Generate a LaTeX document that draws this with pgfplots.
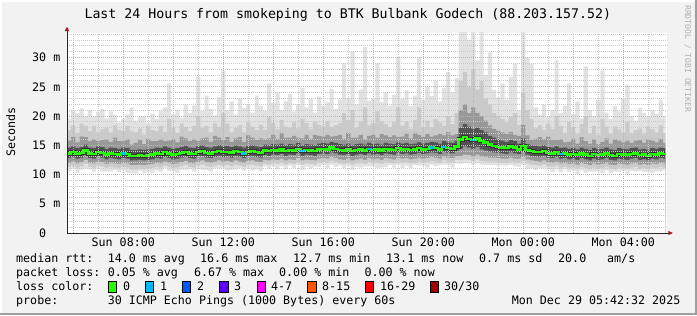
\documentclass[border=0pt]{standalone}
\usepackage{fontspec}
\usepackage{pgfplots}
\pgfplotsset{compat=1.18}
\usepackage{pgfplotstable}
\newfontfamily\mono{DejaVu Sans Mono}
\newcommand\legfont{\mono\fontsize{11.7}{13}\selectfont}
\newcommand\titfont{\mono\fontsize{13.3}{15}\selectfont}
\newcommand\wmfont{\mono\fontsize{8.1}{9}\selectfont}
\definecolor{bgc}{RGB}{242,242,242}
\definecolor{c1}{RGB}{226,226,226}
\definecolor{c2}{RGB}{202,202,202}
\definecolor{c3}{RGB}{152,152,152}
\definecolor{c4}{RGB}{82,82,82}
\definecolor{mgrid}{RGB}{232,160,160}
\definecolor{gridc}{RGB}{200,200,200}
\definecolor{l0}{HTML}{26FF00}
\definecolor{l1}{HTML}{00B8FF}
\definecolor{l2}{HTML}{0059FF}
\definecolor{l3}{HTML}{5E00FF}
\definecolor{l4}{HTML}{FF00FF}
\definecolor{l8}{HTML}{FF5500}
\definecolor{l16}{HTML}{FF0000}
\definecolor{l30}{HTML}{A10000}
\definecolor{arrowc}{RGB}{160,30,30}
\definecolor{axisc}{RGB}{40,40,40}
\definecolor{wm}{RGB}{175,175,175}
\definecolor{shadow}{RGB}{158,158,158}

\pgfplotstableread{
k md mn lo1 lo2 lo3 hi3 hi2 hi1 mx
0 13.6 10.6 11.3 12.0 12.8 14.6 15.8 17.6 19.5
1 13.8 11.0 11.5 12.2 13.0 14.8 16.4 18.4 21.0
2 13.5 10.3 11.2 11.9 12.7 14.5 15.5 17.1 20.5
3 13.7 10.8 11.4 12.1 12.9 14.7 16.5 18.7 21.3
4 14.1 11.0 11.8 12.5 13.3 15.1 16.4 18.3 20.0
5 13.6 10.9 11.3 12.0 12.8 14.6 15.7 17.4 21.0
6 13.5 10.5 11.2 11.9 12.7 14.5 16.0 18.3 19.8
7 13.8 11.0 11.5 12.2 13.0 14.8 15.7 17.3 20.7
8 13.7 10.5 11.4 12.1 12.9 14.7 15.9 17.7 21.2
9 13.4 10.5 11.1 11.8 12.6 14.4 16.0 18.0 19.6
10 13.6 10.5 11.3 12.0 12.8 14.6 15.6 17.2 20.8
11 13.5 10.8 11.2 11.9 12.7 14.5 16.3 18.5 20.2
12 13.4 10.4 11.1 11.8 12.6 14.4 15.7 17.6 18.9
13 13.6 10.8 11.3 12.0 12.8 14.6 15.7 17.4 19.5
14 13.5 10.3 11.2 11.9 12.7 14.5 16.0 18.3 20.3
15 13.2 10.3 10.9 11.6 12.4 14.2 15.1 17.5 21.5
16 13.2 10.1 10.9 11.6 12.4 14.2 15.4 17.2 19.2
17 13.3 10.6 11.0 11.7 12.5 14.3 15.9 17.9 19.8
18 13.2 10.2 10.9 11.6 12.4 14.2 15.2 16.8 20.0
19 13.3 10.5 11.0 11.7 12.5 14.3 16.1 18.3 18.8
20 13.4 10.2 11.1 11.8 12.6 14.4 15.7 17.6 20.4
21 13.6 10.7 11.3 12.0 12.8 14.6 15.7 17.4 19.5
22 13.5 10.4 11.2 11.9 12.7 14.5 16.0 18.3 20.9
23 13.8 11.1 11.5 12.2 13.0 14.8 15.7 17.3 21.5
24 13.6 10.6 11.3 12.0 12.8 14.6 15.8 19.5 25.6
25 13.4 10.6 11.1 11.8 12.6 14.4 16.0 18.0 20.3
26 13.5 10.3 11.2 11.9 12.7 14.5 15.5 17.1 21.0
27 13.7 10.8 11.4 12.1 12.9 14.7 16.5 18.7 19.7
28 13.9 10.8 11.6 12.3 13.1 14.9 16.2 18.1 22.0
29 13.6 10.9 11.3 12.0 12.8 14.6 15.7 17.4 20.5
30 13.5 10.5 11.2 11.9 12.7 14.5 16.0 18.3 21.8
31 13.8 11.0 11.5 12.2 13.0 14.8 15.7 20.0 26.7
32 14.0 10.8 11.7 12.4 13.2 15.0 16.2 18.0 20.9
33 13.7 10.8 11.4 12.1 12.9 14.7 16.3 18.3 23.5
34 13.6 10.5 11.3 12.0 12.8 14.6 15.6 17.2 21.2
35 13.8 11.1 11.5 12.2 13.0 14.8 16.6 18.8 20.1
36 14.0 11.0 11.7 12.4 13.2 15.0 16.3 18.2 23.2
37 13.8 11.0 11.5 12.2 13.0 14.8 15.9 20.5 27.8
38 13.9 10.7 11.6 12.3 13.1 14.9 16.4 18.7 21.0
39 13.7 10.8 11.4 12.1 12.9 14.7 15.6 17.2 22.5
40 14.0 10.9 11.7 12.4 13.2 15.0 16.2 18.0 20.2
41 13.8 11.1 11.5 12.2 13.0 14.8 16.4 18.4 23.0
42 13.6 10.6 11.3 12.0 12.8 14.6 15.6 17.2 21.4
43 13.9 11.1 11.6 12.3 13.1 14.9 16.7 18.9 22.0
44 14.0 10.8 11.7 12.4 13.2 15.0 16.3 18.2 20.6
45 13.8 10.9 11.5 12.2 13.0 14.8 15.9 17.6 23.5
46 13.7 10.6 11.4 12.1 12.9 14.7 16.2 18.5 21.8
47 14.1 11.4 11.8 12.5 13.3 15.1 16.0 17.6 20.9
48 14.0 11.0 11.7 12.4 13.2 15.0 16.2 19.8 25.6
49 14.2 11.4 11.9 12.6 13.4 15.2 16.8 18.8 22.3
50 14.1 10.9 11.8 12.5 13.3 15.1 16.1 17.7 24.0
51 14.3 11.4 12.0 12.7 13.5 15.3 17.1 19.3 21.0
52 14.0 10.9 11.7 12.4 13.2 15.0 16.3 18.2 22.6
53 14.2 11.5 11.9 12.6 13.4 15.2 16.3 18.0 23.8
54 14.1 11.1 11.8 12.5 13.3 15.1 16.6 18.9 20.8
55 14.4 11.6 12.1 12.8 13.6 15.4 16.3 17.9 22.0
56 14.0 10.8 11.7 12.4 13.2 15.0 16.2 19.5 24.8
57 14.2 11.3 11.9 12.6 13.4 15.2 16.8 18.8 21.5
58 14.1 11.0 11.8 12.5 13.3 15.1 16.1 17.7 22.9
59 14.0 11.3 11.7 12.4 13.2 15.0 16.8 19.0 20.6
60 14.3 11.3 12.0 12.7 13.5 15.3 16.6 18.5 23.3
61 14.4 11.6 12.1 12.8 13.6 15.4 16.5 18.2 21.7
62 14.3 11.1 12.0 12.7 13.5 15.3 16.8 19.1 22.4
63 14.6 11.7 12.3 13.0 13.8 15.6 16.5 18.1 24.6
64 14.4 11.3 12.1 12.8 13.6 15.4 16.6 18.4 21.2
65 14.2 11.5 11.9 12.6 13.4 15.2 16.8 18.8 22.8
66 14.1 11.1 11.8 12.5 13.3 15.1 16.1 20.5 29.0
67 14.3 11.5 12.0 12.7 13.5 15.3 17.1 19.3 23.1
68 14.0 10.8 11.7 12.4 13.2 15.0 16.3 21.0 31.0
69 14.2 11.3 11.9 12.6 13.4 15.2 16.3 18.0 22.0
70 14.3 11.2 12.0 12.7 13.5 15.3 16.8 19.1 24.5
71 14.1 11.4 11.8 12.5 13.3 15.1 16.0 21.5 31.8
72 14.4 11.4 12.1 12.8 13.6 15.4 16.6 18.4 22.6
73 14.2 11.4 11.9 12.6 13.4 15.2 16.8 18.8 23.0
74 14.3 11.1 12.0 12.7 13.5 15.3 16.3 20.8 29.0
75 14.1 11.2 11.8 12.5 13.3 15.1 16.9 19.1 22.4
76 14.4 11.3 12.1 12.8 13.6 15.4 16.7 18.6 24.0
77 14.3 11.6 12.0 12.7 13.5 15.3 16.4 18.1 21.8
78 14.2 11.2 11.9 12.6 13.4 15.2 16.7 19.0 23.6
79 14.5 11.7 12.2 12.9 13.7 15.5 16.4 21.5 30.1
80 14.3 11.1 12.0 12.7 13.5 15.3 16.5 18.3 22.9
81 14.4 11.5 12.1 12.8 13.6 15.4 17.0 19.0 24.4
82 14.2 11.1 11.9 12.6 13.4 15.2 16.2 17.8 21.7
83 14.3 11.6 12.0 12.7 13.5 15.3 17.1 19.3 23.5
84 14.5 11.5 12.2 12.9 13.7 15.5 16.8 21.5 30.1
85 14.3 11.5 12.0 12.7 13.5 15.3 16.4 18.1 22.8
86 14.4 11.2 12.1 12.8 13.6 15.4 16.9 19.2 25.0
87 14.6 11.7 12.3 13.0 13.8 15.6 16.5 18.1 23.4
88 14.5 11.4 12.2 12.9 13.7 15.5 16.7 19.5 26.0
89 14.3 11.6 12.0 12.7 13.5 15.3 16.9 18.9 22.5
90 14.7 11.7 12.4 13.1 13.9 15.7 16.7 18.3 24.8
91 14.5 11.7 12.2 12.9 13.7 15.5 17.3 20.0 27.5
92 14.4 11.2 12.1 12.8 13.6 15.4 16.7 18.6 24.0
93 14.8 11.9 12.5 13.2 14.0 15.8 16.9 20.5 26.5
94 16.0 11.8 12.4 13.2 14.4 18.0 21.0 26.0 34.5
95 16.4 12.0 12.6 13.4 14.8 18.6 22.0 27.5 34.5
96 16.1 11.9 12.5 13.3 14.6 18.2 20.5 25.0 33.0
97 15.9 11.6 12.3 13.1 14.4 17.8 21.5 28.0 34.5
98 16.2 12.0 12.6 13.4 14.7 18.0 20.5 24.5 29.5
99 15.7 11.7 12.3 13.1 14.3 17.6 20.0 26.0 34.5
100 15.5 11.6 12.2 13.0 14.1 17.2 19.2 23.0 27.0
101 15.1 11.6 12.2 12.9 13.9 16.6 18.4 22.0 30.9
102 14.9 11.6 12.2 12.9 13.8 16.3 17.8 20.5 24.5
103 14.7 11.5 12.1 12.8 13.7 16.0 17.5 20.0 23.2
104 14.6 11.5 12.0 12.7 13.6 15.8 17.2 19.5 25.6
105 14.5 11.5 12.0 12.7 13.5 15.6 16.9 18.9 22.8
106 14.8 11.6 12.2 12.9 13.8 15.9 17.3 19.8 26.7
107 14.6 11.4 12.0 12.7 13.6 15.7 16.8 20.5 29.0
108 14.3 11.3 12.0 12.7 13.5 15.3 16.6 18.5 21.0
109 14.9 11.6 12.3 13.0 13.9 16.2 18.5 24.0 34.5
110 14.2 11.0 11.9 12.6 13.4 15.2 16.7 21.0 30.0
111 14.0 11.1 11.7 12.4 13.2 15.0 15.9 19.5 29.0
112 13.9 10.8 11.6 12.3 13.1 14.9 16.1 17.9 21.5
113 13.8 11.1 11.5 12.2 13.0 14.8 16.4 18.4 20.2
114 14.0 11.0 11.7 12.4 13.2 15.0 16.0 17.6 22.0
115 13.7 10.9 11.4 12.1 12.9 14.7 16.5 18.7 19.8
116 13.6 10.4 11.3 12.0 12.8 14.6 15.9 17.8 21.0
117 13.8 10.9 11.5 12.2 13.0 14.8 15.9 20.0 29.5
118 13.5 10.4 11.2 11.9 12.7 14.5 16.0 18.3 20.5
119 13.6 10.9 11.3 12.0 12.8 14.6 15.5 17.1 21.8
120 13.4 10.4 11.1 11.8 12.6 14.4 15.6 19.0 25.6
121 13.5 10.7 11.2 11.9 12.7 14.5 16.1 18.1 20.3
122 13.3 10.1 11.0 11.7 12.5 14.3 15.3 16.9 22.5
123 13.6 10.7 11.3 12.0 12.8 14.6 16.4 18.6 19.6
124 13.4 10.3 11.1 11.8 12.6 14.4 15.7 20.0 28.5
125 13.2 10.5 10.9 11.6 12.4 14.2 15.3 17.0 21.0
126 13.5 10.5 11.2 11.9 12.7 14.5 16.0 18.3 20.0
127 13.3 10.5 11.0 11.7 12.5 14.3 15.2 16.8 22.8
128 13.4 10.2 11.1 11.8 12.6 14.4 15.6 19.5 27.8
129 13.6 10.7 11.3 12.0 12.8 14.6 16.2 18.2 20.6
130 13.3 10.2 11.0 11.7 12.5 14.3 15.3 16.9 19.5
131 13.2 10.5 10.9 11.6 12.4 14.2 16.0 18.2 21.7
132 13.5 10.5 11.2 11.9 12.7 14.5 15.8 17.7 20.8
133 13.4 10.6 11.1 11.8 12.6 14.4 15.5 17.2 23.0
134 13.3 10.1 11.0 11.7 12.5 14.3 15.8 19.0 25.3
135 13.5 10.6 11.2 11.9 12.7 14.5 15.4 17.0 20.0
136 13.6 10.5 11.3 12.0 12.8 14.6 15.8 17.6 19.2
137 13.3 10.6 11.0 11.7 12.5 14.3 15.9 17.9 21.4
138 13.4 10.4 11.1 11.8 12.6 14.4 15.4 17.0 20.5
139 13.2 10.4 10.9 11.6 12.4 14.2 16.0 18.2 19.8
140 13.5 10.3 11.2 11.9 12.7 14.5 15.8 17.7 21.0
141 13.4 10.5 11.1 11.8 12.6 14.4 15.5 17.2 20.4
142 13.6 10.5 11.3 12.0 12.8 14.6 16.1 18.4 22.7
143 13.5 10.8 11.2 11.9 12.7 14.5 15.4 17.0 20.0
143.6 13.5 10.8 11.2 11.9 12.7 14.5 15.4 17.0 20.0
}\smoke

\begin{document}
\begin{tikzpicture}[x=1bp,y=1bp]
\fill[bgc] (0,0) rectangle (697,315);
\fill[white] (0,0) rectangle (2,315);
\fill[white] (0,313) rectangle (697,315);
\fill[shadow] (0,0) rectangle (697,2);
\fill[shadow] (695,0) rectangle (697,315);

\begin{axis}[
  at={(67bp,82bp)}, anchor=south west,
  scale only axis, width=600bp, height=200bp,
  xmin=0, xmax=144, ymin=0, ymax=34.2,
  axis on top,
  axis background/.style={fill=white},
  axis line style={draw=none},
  tick style={draw=none},
  xtick={1.5,13.5,25.5,37.5,49.5,61.5,73.5,85.5,97.5,109.5,121.5,133.5},
  xticklabels={,Sun 08:00,,Sun 12:00,,Sun 16:00,,Sun 20:00,,Mon 00:00,,Mon 04:00},
  minor xtick={7.5,19.5,31.5,43.5,55.5,67.5,79.5,91.5,103.5,115.5,127.5,139.5},
  ytick={0,5,10,15,20,25,30},
  yticklabels={0\phantom{\ m},5 m,10 m,15 m,20 m,25 m,30 m},
  minor ytick={1,2,3,4,6,7,8,9,11,12,13,14,16,17,18,19,21,22,23,24,26,27,28,29,31,32,33,34},
  xmajorgrids, ymajorgrids, xminorgrids, yminorgrids,
  major grid style={draw=mgrid, dash pattern=on 1bp off 1bp, line width=1bp},
  minor grid style={draw=gridc, dash pattern=on 1bp off 1bp, line width=1bp},
  ticklabel style={font=\legfont, inner sep=0pt},
  xticklabel style={anchor=base, yshift=-13.3bp},
  yticklabel style={anchor=east, xshift=-6.5bp},
]
\addplot[const plot, draw=none, fill=c1] table[x=k,y=mx]{\smoke} \closedcycle;
\addplot[const plot, draw=none, fill=c2] table[x=k,y=hi1]{\smoke} \closedcycle;
\addplot[const plot, draw=none, fill=c3] table[x=k,y=hi2]{\smoke} \closedcycle;
\addplot[const plot, draw=none, fill=c4] table[x=k,y=hi3]{\smoke} \closedcycle;
\addplot[const plot, draw=none, fill=c3] table[x=k,y=lo3]{\smoke} \closedcycle;
\addplot[const plot, draw=none, fill=c2] table[x=k,y=lo2]{\smoke} \closedcycle;
\addplot[const plot, draw=none, fill=c1] table[x=k,y=lo1]{\smoke} \closedcycle;
\addplot[const plot, draw=none, fill=white] table[x=k,y=mn]{\smoke} \closedcycle;
\addplot[const plot, black!80, line width=4.2bp] table[x=k,y=md]{\smoke};
\addplot[const plot, l0, line width=2.4bp] table[x=k,y=md]{\smoke};
\addplot[l1, line width=2.4bp] coordinates {(13,13.6) (14,13.6)};
\addplot[l1, line width=2.4bp] coordinates {(42,13.6) (43,13.6)};
\addplot[l1, line width=2.4bp] coordinates {(56,14.0) (57,14.0)};
\addplot[l1, line width=2.4bp] coordinates {(72,14.4) (73,14.4)};
\addplot[l1, line width=2.4bp] coordinates {(87,14.6) (88,14.6)};
\addplot[l1, line width=2.4bp] coordinates {(90,14.7) (91,14.7)};
\addplot[l1, line width=2.4bp] coordinates {(97,15.9) (98,15.9)};
\addplot[l1, line width=2.4bp] coordinates {(118,13.5) (119,13.5)};
\end{axis}

% axis lines and arrows
\draw[axisc, line width=1bp] (67,82) -- (668.5,82);
\draw[axisc, line width=1bp] (67,82) -- (67,284.5);
\fill[arrowc] (668.3,79.8) -- (672.8,82) -- (668.3,84.2) -- cycle;
\fill[arrowc] (64.8,284) -- (67,288.5) -- (69.2,284) -- cycle;

% title, axis label, watermark
\node[anchor=base, font=\titfont, inner sep=0pt] at (347.8,296.7) {Last 24 Hours from smokeping to BTK Bulbank Godech (88.203.157.52)};
\node[rotate=90, anchor=base, font=\legfont, inner sep=0pt] at (15,183) {Seconds};
\node[rotate=-90, anchor=base west, font=\wmfont, text=wm, inner sep=0pt] at (685,310) {RRDTOOL / TOBI OETIKER};

% legend
\begin{scope}[every node/.style={anchor=base west, font=\legfont, inner sep=0pt}]
\node at (16,52.3) {median rtt:};
\node at (107.6,52.3) {14.0 ms avg};
\node at (200,52.3) {16.6 ms max};
\node at (293,52.3) {12.7 ms min};
\node at (386,52.3) {13.1 ms now};
\node at (479,52.3) {0.7 ms sd};
\node at (558,52.3) {20.0};
\node at (607,52.3) {am/s};

\node at (16,38.3) {packet loss:};
\node at (107.6,38.3) {0.05 \% avg};
\node at (193.8,38.3) {6.67 \% max};
\node at (279,38.3) {0.00 \% min};
\node at (364.4,38.3) {0.00 \% now};

\node at (16,24.3) {loss color:};
\node at (123,24.3) {0};
\node at (160,24.3) {1};
\node at (197,24.3) {2};
\node at (234,24.3) {3};
\node at (271,24.3) {4-7};
\node at (322,24.3) {8-15};
\node at (380,24.3) {16-29};
\node at (444,24.3) {30/30};

\node at (16,10.3) {probe:};
\node at (107.6,10.3) {30 ICMP Echo Pings (1000 Bytes) every 60s};
\node[anchor=base east] at (680.5,10.3) {Mon Dec 29 05:42:32 2025};
\end{scope}
\foreach \xx/\cc in {108/l0,145.3/l1,182.2/l2,219.6/l3,257/l4,307.6/l8,365.3/l16,430/l30}{
  \filldraw[fill=\cc, draw=black, line width=0.8bp] (\xx,23) rectangle ++(8.5,10.5);
}
\end{tikzpicture}
\end{document}
